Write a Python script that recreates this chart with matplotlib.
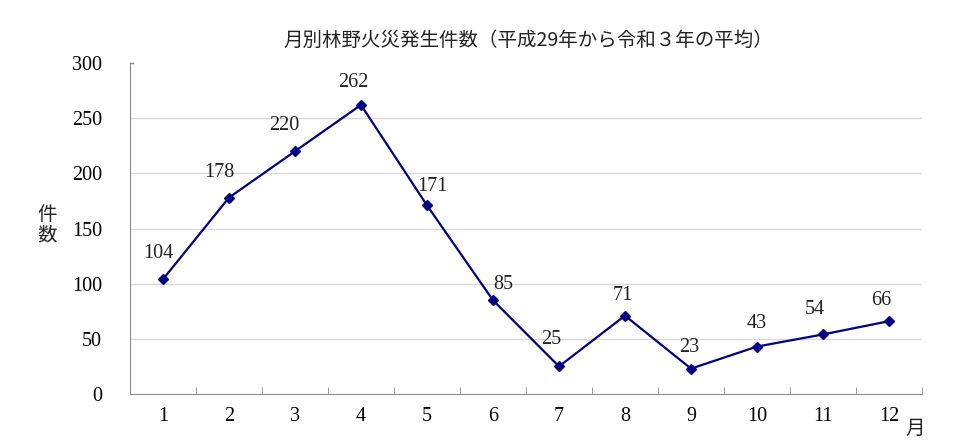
import matplotlib
matplotlib.use("Agg")
import matplotlib.pyplot as plt
import numpy as np

months = ['1', '2', '3', '4', '5', '6', '7', '8', '9', '10', '11', '12']
counts = [104, 178, 220, 262, 171, 85, 25, 71, 23, 43, 54, 66]
# label offsets (pixels) from each point
label_dx = [-5, -10, -11, -8, 5, 10, -8, -2, -2, 0, -8, -8]
label_dy = [26, 25, 26, 22, 19, 16, 27, 20, 21, 23, 25, 21]

jp = ['Noto Sans CJK JP', 'DejaVu Sans']
num = ['Liberation Serif', 'DejaVu Serif']
grey = '#8c8c8c'
fs = 14.5

fig = plt.figure(figsize=(9.6, 4.45), dpi=100)
ax = fig.add_axes([0.1354, 0.1146, 0.825, 0.7438])

x = np.arange(1, len(months) + 1)
ax.plot(x, counts, color='#000080', lw=1.6, marker='D', ms=5.5, zorder=3)

for xi, v, dx, dy in zip(x, counts, label_dx, label_dy):
    ax.annotate(str(v), (xi, v), xytext=(dx, dy), textcoords='offset pixels',
                ha='center', va='center', fontsize=fs, family=num, color='#222222')

ax.set_xlim(0.5, 12.5)
ax.set_ylim(0, 300)
ax.set_yticks(range(0, 301, 50))
for g in range(50, 300, 50):
    ax.axhline(g, color='#d9d9d9', lw=1, zorder=1)

ax.set_xticks(x)
ax.set_xticklabels(months, family=num, fontsize=fs)
ax.set_xticks(np.arange(0.5, 12.6, 1), minor=True)
ax.tick_params(axis='x', which='major', length=0, pad=9)
ax.tick_params(axis='x', which='minor', direction='in', length=5, color=grey)
ax.tick_params(axis='y', direction='in', length=0, pad=20)
for lbl in ax.get_yticklabels():
    lbl.set_family(num)
    lbl.set_fontsize(fs)

for s in ['top', 'right']:
    ax.spines[s].set_visible(False)
for s in ['left', 'bottom']:
    ax.spines[s].set_color(grey)
ax.plot([0.5, 0.55], [300, 300], color=grey, lw=1, clip_on=False)

fig.text(0.55, 0.91, '月別林野火災発生件数（平成29年から令和３年の平均）',
         ha='center', va='center', fontsize=14, family=jp, color='#222222')
fig.text(0.049, 0.495, '件\n数', ha='center', va='center', fontsize=14,
         family=jp, linespacing=1.0, color='#222222')
fig.text(0.953, 0.038, '月', ha='center', va='center', fontsize=14,
         family=jp, color='#222222')

fig.savefig('out.png', dpi=100)
